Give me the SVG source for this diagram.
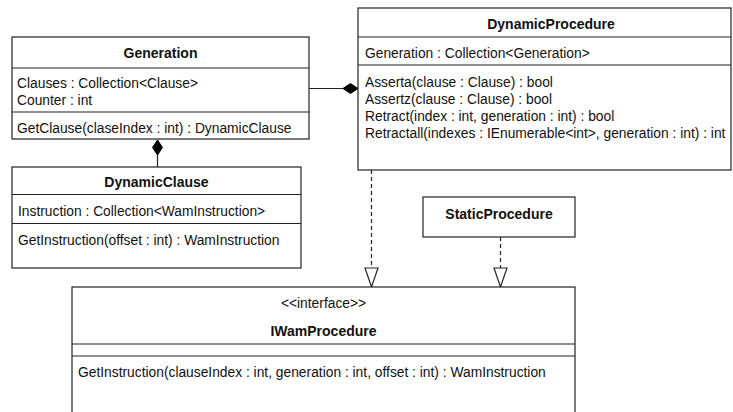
<svg xmlns="http://www.w3.org/2000/svg" width="733" height="412" viewBox="0 0 733 412">
  <style>
    .box { fill: #ffffff; stroke: #222222; stroke-width: 1.2; }
    .sep { stroke: #222222; stroke-width: 1.2; fill: none; }
    .t { font-family: "Liberation Sans", Arial, sans-serif; font-size: 13.8px; fill: #111111; }
    .b { font-weight: bold; font-size: 14px; text-anchor: middle; }
    .c { text-anchor: middle; }
    .line { stroke: #222222; stroke-width: 1.2; fill: none; }
    .dash { stroke-dasharray: 4 3; }
    .diamond { fill: #000000; stroke: #000000; stroke-width: 1; }
    .tri { fill: #ffffff; stroke: #222222; stroke-width: 1.2; }
  </style>

  <!-- connectors -->
  <g id="connectors">
    <!-- Generation composed into DynamicProcedure -->
    <line class="line" x1="309" y1="88.5" x2="343" y2="88.5"/>
    <polygon class="diamond" points="343,88.5 350.5,83.5 358,88.5 350.5,93.5"/>
    <!-- DynamicClause composed into Generation -->
    <line class="line" x1="157.5" y1="155" x2="157.5" y2="167"/>
    <polygon class="diamond" points="157.5,140 162.5,147.5 157.5,155 152.5,147.5"/>
    <!-- DynamicProcedure realizes IWamProcedure -->
    <line class="line dash" x1="371.5" y1="170" x2="371.5" y2="268"/>
    <polygon class="tri" points="365,268 378,268 371.5,287"/>
    <!-- StaticProcedure realizes IWamProcedure -->
    <line class="line dash" x1="500.5" y1="237" x2="500.5" y2="268"/>
    <polygon class="tri" points="494,268 507,268 500.5,287"/>
  </g>

  <!-- Generation -->
  <g id="Generation">
    <rect class="box" x="12" y="37" width="297" height="102"/>
    <line class="sep" x1="12" y1="68" x2="309" y2="68"/>
    <line class="sep" x1="12" y1="112" x2="309" y2="112"/>
    <text class="t b" x="160.5" y="58">Generation</text>
    <text class="t" x="17" y="88">Clauses : Collection&lt;Clause&gt;</text>
    <text class="t" x="17" y="105">Counter : int</text>
    <text class="t" x="17" y="133">GetClause(claseIndex : int) : DynamicClause</text>
  </g>

  <!-- DynamicClause -->
  <g id="DynamicClause">
    <rect class="box" x="12" y="167" width="289" height="101"/>
    <line class="sep" x1="12" y1="194.5" x2="301" y2="194.5"/>
    <line class="sep" x1="12" y1="223.5" x2="301" y2="223.5"/>
    <text class="t b" x="156.5" y="186.5">DynamicClause</text>
    <text class="t" x="18" y="216">Instruction : Collection&lt;WamInstruction&gt;</text>
    <text class="t" x="18" y="244.5">GetInstruction(offset : int) : WamInstruction</text>
  </g>

  <!-- DynamicProcedure -->
  <g id="DynamicProcedure">
    <rect class="box" x="358" y="8" width="373" height="162"/>
    <line class="sep" x1="358" y1="37" x2="731" y2="37"/>
    <line class="sep" x1="358" y1="65" x2="731" y2="65"/>
    <text class="t b" x="551" y="29">DynamicProcedure</text>
    <text class="t" x="365" y="58">Generation : Collection&lt;Generation&gt;</text>
    <text class="t" x="365" y="86.5">Asserta(clause : Clause) : bool</text>
    <text class="t" x="365" y="104">Assertz(clause : Clause) : bool</text>
    <text class="t" x="365" y="121">Retract(index : int, generation : int) : bool</text>
    <text class="t" x="365" y="137.5">Retractall(indexes : IEnumerable&lt;int&gt;, generation : int) : int</text>
  </g>

  <!-- StaticProcedure -->
  <g id="StaticProcedure">
    <rect class="box" x="423" y="197" width="152" height="40"/>
    <text class="t b" x="499" y="218.5">StaticProcedure</text>
  </g>

  <!-- IWamProcedure -->
  <g id="IWamProcedure">
    <rect class="box" x="72" y="287" width="503" height="140"/>
    <line class="sep" x1="72" y1="344" x2="575" y2="344"/>
    <line class="sep" x1="72" y1="356" x2="575" y2="356"/>
    <text class="t c" x="323.5" y="308">&lt;&lt;interface&gt;&gt;</text>
    <text class="t b" x="323.5" y="336">IWamProcedure</text>
    <text class="t" x="78" y="377">GetInstruction(clauseIndex : int, generation : int, offset : int) : WamInstruction</text>
  </g>
</svg>
